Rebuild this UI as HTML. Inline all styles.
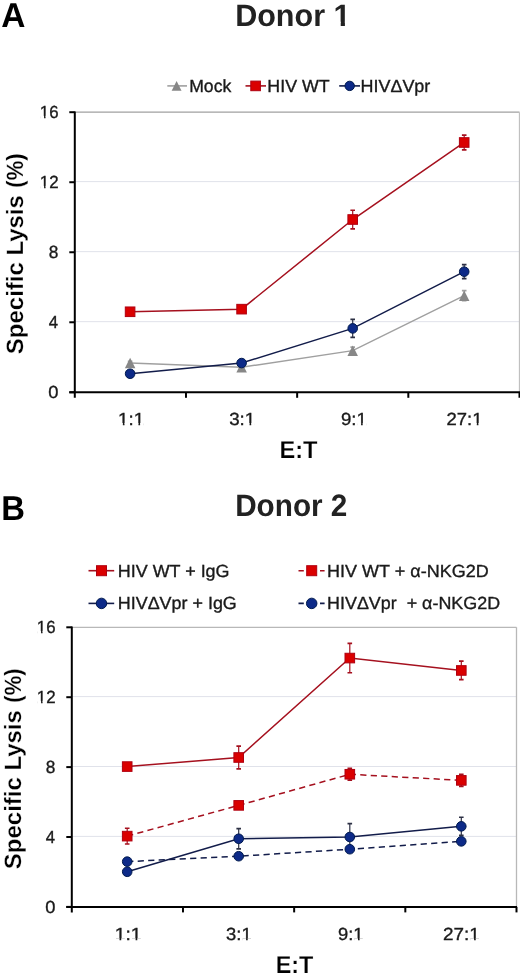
<!DOCTYPE html>
<html><head><meta charset="utf-8"><style>
html,body{margin:0;padding:0;background:#fff;width:520px;height:975px;overflow:hidden;}
svg{display:block;will-change:transform;font-family:"Liberation Sans", sans-serif;}
</style></head><body>
<svg width="520" height="975" viewBox="0 0 520 975" text-rendering="geometricPrecision">
<rect width="520" height="975" fill="#fff"/>
<line x1="167.3" y1="85.9" x2="187" y2="85.9" stroke="#a0a0a0" stroke-width="1.6"/>
<path d="M176.60,80.95 L181.55,90.85 L171.65,90.85 Z" fill="#878787"/>
<line x1="245.5" y1="85.9" x2="266" y2="85.9" stroke="#a5101e" stroke-width="1.6"/>
<rect x="250.80" y="81.10" width="9.60" height="9.60" fill="#da0000" stroke="#b00010" stroke-width="1"/>
<line x1="339.2" y1="85.9" x2="360" y2="85.9" stroke="#121c4a" stroke-width="1.6"/>
<circle cx="349.70" cy="85.90" r="4.70" fill="#0d2a88" stroke="#001a4e" stroke-width="1"/>
<line x1="74.80" y1="321.67" x2="519.50" y2="321.67" stroke="#e0e2ea" stroke-width="1"/>
<line x1="74.80" y1="251.65" x2="519.50" y2="251.65" stroke="#e0e2ea" stroke-width="1"/>
<line x1="74.80" y1="181.62" x2="519.50" y2="181.62" stroke="#e0e2ea" stroke-width="1"/>
<line x1="74.80" y1="112.20" x2="519.50" y2="112.20" stroke="#a0a0a0" stroke-width="1.3"/>
<line x1="519.50" y1="112.20" x2="519.50" y2="392.30" stroke="#c0c0c0" stroke-width="1.3"/>
<line x1="74.80" y1="111.40" x2="74.80" y2="397.80" stroke="#000" stroke-width="2"/>
<line x1="69.30" y1="392.30" x2="520.00" y2="392.30" stroke="#000" stroke-width="2"/>
<line x1="69.30" y1="392.30" x2="74.80" y2="392.30" stroke="#000" stroke-width="2"/>
<line x1="69.30" y1="322.27" x2="74.80" y2="322.27" stroke="#000" stroke-width="2"/>
<line x1="69.30" y1="252.25" x2="74.80" y2="252.25" stroke="#000" stroke-width="2"/>
<line x1="69.30" y1="182.22" x2="74.80" y2="182.22" stroke="#000" stroke-width="2"/>
<line x1="69.30" y1="112.20" x2="74.80" y2="112.20" stroke="#000" stroke-width="2"/>
<line x1="185.97" y1="392.30" x2="185.97" y2="397.80" stroke="#000" stroke-width="2"/>
<line x1="297.15" y1="392.30" x2="297.15" y2="397.80" stroke="#000" stroke-width="2"/>
<line x1="408.32" y1="392.30" x2="408.32" y2="397.80" stroke="#000" stroke-width="2"/>
<line x1="519.50" y1="392.30" x2="519.50" y2="397.80" stroke="#000" stroke-width="2"/>
<path d="M130.10,363.06 L241.60,367.27 L352.70,350.64 L464.20,295.67" stroke="#a0a0a0" stroke-width="1.5" fill="none"/>
<path d="M130.10,373.74 L241.60,363.06 L352.70,328.40 L464.20,271.68" stroke="#121c4a" stroke-width="1.5" fill="none"/>
<path d="M130.10,311.77 L241.60,309.15 L352.70,219.51 L464.20,142.49" stroke="#a5101e" stroke-width="1.5" fill="none"/>
<path d="M130.10,361.31 V364.82" stroke="#a0a0a0" stroke-width="1.2" fill="none"/>
<path d="M127.80,361.31 h4.6 M127.80,364.82 h4.6" stroke="#a0a0a0" stroke-width="1.7" fill="none"/>
<path d="M241.60,365.52 V369.02" stroke="#a0a0a0" stroke-width="1.2" fill="none"/>
<path d="M239.30,365.52 h4.6 M239.30,369.02 h4.6" stroke="#a0a0a0" stroke-width="1.7" fill="none"/>
<path d="M352.70,347.13 V354.14" stroke="#a0a0a0" stroke-width="1.2" fill="none"/>
<path d="M350.40,347.13 h4.6 M350.40,354.14 h4.6" stroke="#a0a0a0" stroke-width="1.7" fill="none"/>
<path d="M464.20,290.59 V300.74" stroke="#a0a0a0" stroke-width="1.2" fill="none"/>
<path d="M461.90,290.59 h4.6 M461.90,300.74 h4.6" stroke="#a0a0a0" stroke-width="1.7" fill="none"/>
<path d="M352.70,319.47 V337.33" stroke="#2c3044" stroke-width="1.2" fill="none"/>
<path d="M350.40,319.47 h4.6 M350.40,337.33 h4.6" stroke="#2c3044" stroke-width="1.7" fill="none"/>
<path d="M464.20,264.68 V278.68" stroke="#2c3044" stroke-width="1.2" fill="none"/>
<path d="M461.90,264.68 h4.6 M461.90,278.68 h4.6" stroke="#2c3044" stroke-width="1.7" fill="none"/>
<path d="M352.70,210.24 V228.79" stroke="#a5101e" stroke-width="1.2" fill="none"/>
<path d="M350.40,210.24 h4.6 M350.40,228.79 h4.6" stroke="#a5101e" stroke-width="1.7" fill="none"/>
<path d="M464.20,135.13 V149.84" stroke="#a5101e" stroke-width="1.2" fill="none"/>
<path d="M461.90,135.13 h4.6 M461.90,149.84 h4.6" stroke="#a5101e" stroke-width="1.7" fill="none"/>
<path d="M130.10,357.81 L135.35,368.31 L124.85,368.31 Z" fill="#878787"/>
<path d="M241.60,362.02 L246.85,372.52 L236.35,372.52 Z" fill="#878787"/>
<path d="M352.70,345.39 L357.95,355.89 L347.45,355.89 Z" fill="#878787"/>
<path d="M464.20,290.42 L469.45,300.92 L458.95,300.92 Z" fill="#878787"/>
<circle cx="130.10" cy="373.74" r="4.80" fill="#0d2a88" stroke="#001a4e" stroke-width="1"/>
<circle cx="241.60" cy="363.06" r="4.80" fill="#0d2a88" stroke="#001a4e" stroke-width="1"/>
<circle cx="352.70" cy="328.40" r="4.80" fill="#0d2a88" stroke="#001a4e" stroke-width="1"/>
<circle cx="464.20" cy="271.68" r="4.80" fill="#0d2a88" stroke="#001a4e" stroke-width="1"/>
<rect x="125.30" y="306.97" width="9.60" height="9.60" fill="#da0000" stroke="#b00010" stroke-width="1"/>
<rect x="236.80" y="304.35" width="9.60" height="9.60" fill="#da0000" stroke="#b00010" stroke-width="1"/>
<rect x="347.90" y="214.71" width="9.60" height="9.60" fill="#da0000" stroke="#b00010" stroke-width="1"/>
<rect x="459.40" y="137.69" width="9.60" height="9.60" fill="#da0000" stroke="#b00010" stroke-width="1"/>
<line x1="88.5" y1="570.7" x2="114.2" y2="570.7" stroke="#a5101e" stroke-width="1.6"/>
<rect x="96.50" y="565.70" width="10.00" height="10.00" fill="#da0000" stroke="#b00010" stroke-width="1"/>
<line x1="88.5" y1="603.4" x2="114.2" y2="603.4" stroke="#121c4a" stroke-width="1.6"/>
<circle cx="101.50" cy="603.40" r="5.25" fill="#0d2a88" stroke="#001a4e" stroke-width="1"/>
<path d="M298.5,570.7 H303.8 M320,570.7 H324.6" stroke="#a5101e" stroke-width="1.6"/>
<rect x="306.70" y="565.70" width="10.00" height="10.00" fill="#da0000" stroke="#b00010" stroke-width="1"/>
<path d="M298.5,603.4 H303.8 M320,603.4 H324.6" stroke="#121c4a" stroke-width="1.6"/>
<circle cx="311.70" cy="603.40" r="5.25" fill="#0d2a88" stroke="#001a4e" stroke-width="1"/>
<line x1="71.80" y1="836.40" x2="516.50" y2="836.40" stroke="#e0e2ea" stroke-width="1"/>
<line x1="71.80" y1="766.50" x2="516.50" y2="766.50" stroke="#e0e2ea" stroke-width="1"/>
<line x1="71.80" y1="696.60" x2="516.50" y2="696.60" stroke="#e0e2ea" stroke-width="1"/>
<line x1="71.80" y1="627.30" x2="516.50" y2="627.30" stroke="#b8b8b8" stroke-width="1.3"/>
<line x1="516.50" y1="627.30" x2="516.50" y2="906.90" stroke="#b8b8b8" stroke-width="1.3"/>
<line x1="71.80" y1="626.50" x2="71.80" y2="912.40" stroke="#000" stroke-width="2"/>
<line x1="66.30" y1="906.90" x2="517.00" y2="906.90" stroke="#000" stroke-width="2"/>
<line x1="66.30" y1="906.90" x2="71.80" y2="906.90" stroke="#000" stroke-width="2"/>
<line x1="66.30" y1="837.00" x2="71.80" y2="837.00" stroke="#000" stroke-width="2"/>
<line x1="66.30" y1="767.10" x2="71.80" y2="767.10" stroke="#000" stroke-width="2"/>
<line x1="66.30" y1="697.20" x2="71.80" y2="697.20" stroke="#000" stroke-width="2"/>
<line x1="66.30" y1="627.30" x2="71.80" y2="627.30" stroke="#000" stroke-width="2"/>
<line x1="182.97" y1="906.90" x2="182.97" y2="912.40" stroke="#000" stroke-width="2"/>
<line x1="294.15" y1="906.90" x2="294.15" y2="912.40" stroke="#000" stroke-width="2"/>
<line x1="405.32" y1="906.90" x2="405.32" y2="912.40" stroke="#000" stroke-width="2"/>
<line x1="516.50" y1="906.90" x2="516.50" y2="912.40" stroke="#000" stroke-width="2"/>
<path d="M127.20,861.64 L238.70,856.22 L349.80,849.23 L461.30,841.37" stroke="#121c4a" stroke-width="1.5" fill="none" stroke-dasharray="6.2,4.3"/>
<path d="M127.20,871.78 L238.70,838.75 L349.80,837.00 L461.30,826.34" stroke="#121c4a" stroke-width="1.5" fill="none"/>
<path d="M127.20,836.13 L238.70,805.37 L349.80,774.26 L461.30,780.38" stroke="#a5101e" stroke-width="1.5" fill="none" stroke-dasharray="6.2,4.3"/>
<path d="M127.20,766.58 L238.70,757.49 L349.80,658.06 L461.30,670.46" stroke="#a5101e" stroke-width="1.5" fill="none"/>
<path d="M238.70,828.61 V848.88" stroke="#2c3044" stroke-width="1.2" fill="none"/>
<path d="M236.40,828.61 h4.6 M236.40,848.88 h4.6" stroke="#2c3044" stroke-width="1.7" fill="none"/>
<path d="M349.80,823.54 V850.46" stroke="#2c3044" stroke-width="1.2" fill="none"/>
<path d="M347.50,823.54 h4.6 M347.50,850.46 h4.6" stroke="#2c3044" stroke-width="1.7" fill="none"/>
<path d="M461.30,817.25 V835.43" stroke="#2c3044" stroke-width="1.2" fill="none"/>
<path d="M459.00,817.25 h4.6 M459.00,835.43 h4.6" stroke="#2c3044" stroke-width="1.7" fill="none"/>
<path d="M127.20,828.26 V843.99" stroke="#a5101e" stroke-width="1.2" fill="none"/>
<path d="M124.90,828.26 h4.6 M124.90,843.99 h4.6" stroke="#a5101e" stroke-width="1.7" fill="none"/>
<path d="M349.80,768.32 V780.21" stroke="#a5101e" stroke-width="1.2" fill="none"/>
<path d="M347.50,768.32 h4.6 M347.50,780.21 h4.6" stroke="#a5101e" stroke-width="1.7" fill="none"/>
<path d="M461.30,774.44 V786.32" stroke="#a5101e" stroke-width="1.2" fill="none"/>
<path d="M459.00,774.44 h4.6 M459.00,786.32 h4.6" stroke="#a5101e" stroke-width="1.7" fill="none"/>
<path d="M238.70,746.13 V768.85" stroke="#a5101e" stroke-width="1.2" fill="none"/>
<path d="M236.40,746.13 h4.6 M236.40,768.85 h4.6" stroke="#a5101e" stroke-width="1.7" fill="none"/>
<path d="M349.80,643.38 V672.73" stroke="#a5101e" stroke-width="1.2" fill="none"/>
<path d="M347.50,643.38 h4.6 M347.50,672.73 h4.6" stroke="#a5101e" stroke-width="1.7" fill="none"/>
<path d="M461.30,661.20 V679.72" stroke="#a5101e" stroke-width="1.2" fill="none"/>
<path d="M459.00,661.20 h4.6 M459.00,679.72 h4.6" stroke="#a5101e" stroke-width="1.7" fill="none"/>
<circle cx="127.20" cy="861.64" r="4.80" fill="#0d2a88" stroke="#001a4e" stroke-width="1"/>
<circle cx="238.70" cy="856.22" r="4.80" fill="#0d2a88" stroke="#001a4e" stroke-width="1"/>
<circle cx="349.80" cy="849.23" r="4.80" fill="#0d2a88" stroke="#001a4e" stroke-width="1"/>
<circle cx="461.30" cy="841.37" r="4.80" fill="#0d2a88" stroke="#001a4e" stroke-width="1"/>
<circle cx="127.20" cy="871.78" r="4.80" fill="#0d2a88" stroke="#001a4e" stroke-width="1"/>
<circle cx="238.70" cy="838.75" r="4.80" fill="#0d2a88" stroke="#001a4e" stroke-width="1"/>
<circle cx="349.80" cy="837.00" r="4.80" fill="#0d2a88" stroke="#001a4e" stroke-width="1"/>
<circle cx="461.30" cy="826.34" r="4.80" fill="#0d2a88" stroke="#001a4e" stroke-width="1"/>
<rect x="122.40" y="831.33" width="9.60" height="9.60" fill="#da0000" stroke="#b00010" stroke-width="1"/>
<rect x="233.90" y="800.57" width="9.60" height="9.60" fill="#da0000" stroke="#b00010" stroke-width="1"/>
<rect x="345.00" y="769.46" width="9.60" height="9.60" fill="#da0000" stroke="#b00010" stroke-width="1"/>
<rect x="456.50" y="775.58" width="9.60" height="9.60" fill="#da0000" stroke="#b00010" stroke-width="1"/>
<rect x="122.40" y="761.78" width="9.60" height="9.60" fill="#da0000" stroke="#b00010" stroke-width="1"/>
<rect x="233.90" y="752.69" width="9.60" height="9.60" fill="#da0000" stroke="#b00010" stroke-width="1"/>
<rect x="345.00" y="653.26" width="9.60" height="9.60" fill="#da0000" stroke="#b00010" stroke-width="1"/>
<rect x="456.50" y="665.66" width="9.60" height="9.60" fill="#da0000" stroke="#b00010" stroke-width="1"/>
<text x="1.13" y="26.80" font-size="34.5" font-weight="bold" fill="#000" textLength="24.16" lengthAdjust="spacingAndGlyphs">A</text>
<text x="235.13" y="25.60" font-size="31" font-weight="bold" fill="#222" textLength="115.46" lengthAdjust="spacingAndGlyphs">Donor 1</text>
<text x="189.20" y="92.30" font-size="17.6" font-weight="normal" fill="#1a1a1a" textLength="42.05" lengthAdjust="spacingAndGlyphs" stroke="#1a1a1a" stroke-width="0.35">Mock</text>
<text x="267.38" y="92.30" font-size="17.6" font-weight="normal" fill="#1a1a1a" textLength="62.35" lengthAdjust="spacingAndGlyphs" stroke="#1a1a1a" stroke-width="0.35">HIV WT</text>
<text x="360.47" y="92.30" font-size="17.6" font-weight="normal" fill="#1a1a1a" textLength="69.85" lengthAdjust="spacingAndGlyphs" stroke="#1a1a1a" stroke-width="0.35">HIVΔVpr</text>
<text x="118.14" y="425.00" font-size="17.6" font-weight="normal" fill="#1a1a1a" textLength="26.01" lengthAdjust="spacingAndGlyphs" stroke="#1a1a1a" stroke-width="0.35">1:1</text>
<text x="229.20" y="425.00" font-size="17.6" font-weight="normal" fill="#1a1a1a" textLength="26.06" lengthAdjust="spacingAndGlyphs" stroke="#1a1a1a" stroke-width="0.35">3:1</text>
<text x="340.91" y="425.00" font-size="17.6" font-weight="normal" fill="#1a1a1a" textLength="25.81" lengthAdjust="spacingAndGlyphs" stroke="#1a1a1a" stroke-width="0.35">9:1</text>
<text x="446.55" y="425.00" font-size="17.6" font-weight="normal" fill="#1a1a1a" textLength="35.88" lengthAdjust="spacingAndGlyphs" stroke="#1a1a1a" stroke-width="0.35">27:1</text>
<text x="279.52" y="457.90" font-size="24.5" font-weight="bold" fill="#000" textLength="38.00" lengthAdjust="spacingAndGlyphs" stroke="#fff" stroke-width="0.20">E:T</text>
<text x="1.16" y="519.80" font-size="34.5" font-weight="bold" fill="#000" textLength="23.74" lengthAdjust="spacingAndGlyphs">B</text>
<text x="235.18" y="515.60" font-size="31" font-weight="bold" fill="#222" textLength="112.23" lengthAdjust="spacingAndGlyphs">Donor 2</text>
<text x="117.77" y="577.20" font-size="17.6" font-weight="normal" fill="#1a1a1a" textLength="111.78" lengthAdjust="spacingAndGlyphs" stroke="#1a1a1a" stroke-width="0.35">HIV WT + IgG</text>
<text x="117.77" y="609.40" font-size="17.6" font-weight="normal" fill="#1a1a1a" textLength="119.03" lengthAdjust="spacingAndGlyphs" stroke="#1a1a1a" stroke-width="0.35">HIVΔVpr + IgG</text>
<text x="327.06" y="577.20" font-size="17.6" font-weight="normal" fill="#1a1a1a" textLength="161.71" lengthAdjust="spacingAndGlyphs" stroke="#1a1a1a" stroke-width="0.35">HIV WT + α-NKG2D</text>
<text x="327.07" y="609.40" font-size="17.6" font-weight="normal" fill="#1a1a1a" textLength="173.04" lengthAdjust="spacingAndGlyphs" xml:space="preserve" stroke="#1a1a1a" stroke-width="0.35">HIVΔVpr  + α-NKG2D</text>
<text x="114.68" y="940.40" font-size="17.6" font-weight="normal" fill="#1a1a1a" textLength="26.79" lengthAdjust="spacingAndGlyphs" stroke="#1a1a1a" stroke-width="0.35">1:1</text>
<text x="226.12" y="940.40" font-size="17.6" font-weight="normal" fill="#1a1a1a" textLength="25.57" lengthAdjust="spacingAndGlyphs" stroke="#1a1a1a" stroke-width="0.35">3:1</text>
<text x="338.12" y="940.40" font-size="17.6" font-weight="normal" fill="#1a1a1a" textLength="25.45" lengthAdjust="spacingAndGlyphs" stroke="#1a1a1a" stroke-width="0.35">9:1</text>
<text x="443.13" y="940.40" font-size="17.6" font-weight="normal" fill="#1a1a1a" textLength="36.69" lengthAdjust="spacingAndGlyphs" stroke="#1a1a1a" stroke-width="0.35">27:1</text>
<text x="275.63" y="972.90" font-size="24.5" font-weight="bold" fill="#000" textLength="37.68" lengthAdjust="spacingAndGlyphs" stroke="#fff" stroke-width="0.20">E:T</text>
<text x="48.32" y="397.95" font-size="17.6" font-weight="normal" fill="#1a1a1a" textLength="10.21" lengthAdjust="spacingAndGlyphs" stroke="#1a1a1a" stroke-width="0.35">0</text>
<text x="48.73" y="327.92" font-size="17.6" font-weight="normal" fill="#1a1a1a" textLength="9.29" lengthAdjust="spacingAndGlyphs" stroke="#1a1a1a" stroke-width="0.35">4</text>
<text x="48.66" y="257.90" font-size="17.6" font-weight="normal" fill="#1a1a1a" textLength="9.62" lengthAdjust="spacingAndGlyphs" stroke="#1a1a1a" stroke-width="0.35">8</text>
<text x="39.82" y="187.88" font-size="17.6" font-weight="normal" fill="#1a1a1a" textLength="18.77" lengthAdjust="spacingAndGlyphs" stroke="#1a1a1a" stroke-width="0.35">12</text>
<text x="39.83" y="117.85" font-size="17.6" font-weight="normal" fill="#1a1a1a" textLength="18.66" lengthAdjust="spacingAndGlyphs" stroke="#1a1a1a" stroke-width="0.35">16</text>
<text x="45.32" y="912.55" font-size="17.6" font-weight="normal" fill="#1a1a1a" textLength="10.21" lengthAdjust="spacingAndGlyphs" stroke="#1a1a1a" stroke-width="0.35">0</text>
<text x="45.73" y="842.65" font-size="17.6" font-weight="normal" fill="#1a1a1a" textLength="9.29" lengthAdjust="spacingAndGlyphs" stroke="#1a1a1a" stroke-width="0.35">4</text>
<text x="45.66" y="772.75" font-size="17.6" font-weight="normal" fill="#1a1a1a" textLength="9.62" lengthAdjust="spacingAndGlyphs" stroke="#1a1a1a" stroke-width="0.35">8</text>
<text x="36.82" y="702.85" font-size="17.6" font-weight="normal" fill="#1a1a1a" textLength="18.77" lengthAdjust="spacingAndGlyphs" stroke="#1a1a1a" stroke-width="0.35">12</text>
<text x="36.83" y="632.95" font-size="17.6" font-weight="normal" fill="#1a1a1a" textLength="18.66" lengthAdjust="spacingAndGlyphs" stroke="#1a1a1a" stroke-width="0.35">16</text>
<text transform="translate(23.30,354.16) rotate(-90)" x="0" y="0" font-size="23.6" font-weight="bold" fill="#000" textLength="158.98" lengthAdjust="spacingAndGlyphs" stroke="#fff" stroke-width="0.25">Specific Lysis</text>
<text transform="translate(23.30,187.67) rotate(-90)" x="0" y="0" font-size="23.6" font-weight="bold" fill="#000" textLength="34.29" lengthAdjust="spacingAndGlyphs" stroke="#fff" stroke-width="0.25">(%)</text>
<text transform="translate(20.60,869.16) rotate(-90)" x="0" y="0" font-size="23.6" font-weight="bold" fill="#000" textLength="158.98" lengthAdjust="spacingAndGlyphs" stroke="#fff" stroke-width="0.25">Specific Lysis</text>
<text transform="translate(20.60,702.66) rotate(-90)" x="0" y="0" font-size="23.6" font-weight="bold" fill="#000" textLength="34.18" lengthAdjust="spacingAndGlyphs" stroke="#fff" stroke-width="0.25">(%)</text>
<rect x="334.90" y="21.74" width="5.82" height="5.46" fill="#fff"/>
<rect x="344.91" y="21.74" width="5.43" height="5.46" fill="#fff"/>
<rect x="118.97" y="422.99" width="3.88" height="3.61" fill="#fff"/>
<rect x="124.50" y="422.99" width="3.74" height="3.61" fill="#fff"/>
<rect x="134.56" y="422.99" width="3.88" height="3.61" fill="#fff"/>
<rect x="140.10" y="422.99" width="3.74" height="3.61" fill="#fff"/>
<rect x="245.66" y="422.99" width="3.89" height="3.61" fill="#fff"/>
<rect x="251.20" y="422.99" width="3.74" height="3.61" fill="#fff"/>
<rect x="357.20" y="422.99" width="3.86" height="3.61" fill="#fff"/>
<rect x="362.70" y="422.99" width="3.71" height="3.61" fill="#fff"/>
<rect x="472.97" y="422.99" width="3.83" height="3.61" fill="#fff"/>
<rect x="478.44" y="422.99" width="3.69" height="3.61" fill="#fff"/>
<rect x="115.55" y="938.39" width="3.98" height="3.61" fill="#fff"/>
<rect x="121.23" y="938.39" width="3.83" height="3.61" fill="#fff"/>
<rect x="131.61" y="938.39" width="3.98" height="3.61" fill="#fff"/>
<rect x="137.30" y="938.39" width="3.83" height="3.61" fill="#fff"/>
<rect x="242.25" y="938.39" width="3.83" height="3.61" fill="#fff"/>
<rect x="247.71" y="938.39" width="3.68" height="3.61" fill="#fff"/>
<rect x="354.18" y="938.39" width="3.81" height="3.61" fill="#fff"/>
<rect x="359.61" y="938.39" width="3.67" height="3.61" fill="#fff"/>
<rect x="470.16" y="938.39" width="3.91" height="3.61" fill="#fff"/>
<rect x="475.74" y="938.39" width="3.76" height="3.61" fill="#fff"/>
<rect x="40.51" y="185.87" width="3.56" height="3.61" fill="#fff"/>
<rect x="45.56" y="185.87" width="3.43" height="3.61" fill="#fff"/>
<rect x="40.51" y="115.84" width="3.54" height="3.61" fill="#fff"/>
<rect x="45.54" y="115.84" width="3.41" height="3.61" fill="#fff"/>
<rect x="37.51" y="700.84" width="3.56" height="3.61" fill="#fff"/>
<rect x="42.56" y="700.84" width="3.43" height="3.61" fill="#fff"/>
<rect x="37.51" y="630.94" width="3.54" height="3.61" fill="#fff"/>
<rect x="42.54" y="630.94" width="3.41" height="3.61" fill="#fff"/>
</svg>
</body></html>
